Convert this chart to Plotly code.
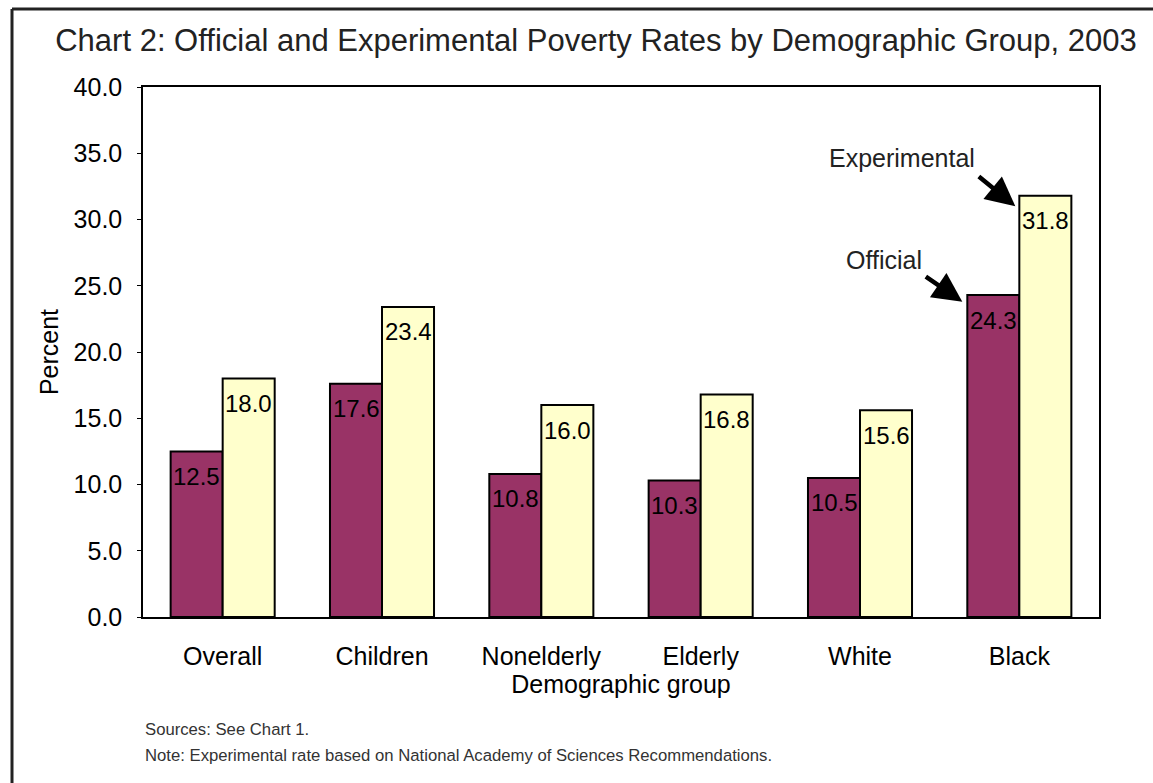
import plotly.graph_objects as go

categories = ["Overall", "Children", "Nonelderly", "Elderly", "White", "Black"]
official = [12.5, 17.6, 10.8, 10.3, 10.5, 24.3]
experimental = [18.0, 23.4, 16.0, 16.8, 15.6, 31.8]
y_ticks = [0, 5, 10, 15, 20, 25, 30, 35, 40]

FONT = "Liberation Sans, Arial, sans-serif"
BAR_HALF_PX = 26  # half width of one bar in pixels (for label centring)

fig = go.Figure()
fig.add_trace(go.Bar(
    name="Official", x=categories, y=official,
    marker=dict(color="#993366", line=dict(color="#000000", width=2)),
    textposition="none",
))
fig.add_trace(go.Bar(
    name="Experimental", x=categories, y=experimental,
    marker=dict(color="#FFFFCC", line=dict(color="#000000", width=2)),
    textposition="none",
))

# value labels inside the top of each bar
for series, shift in ((official, -BAR_HALF_PX), (experimental, BAR_HALF_PX)):
    for cat, v in zip(categories, series):
        fig.add_annotation(x=cat, y=v, xref="x", yref="y", xshift=shift, yshift=-25,
                           xanchor="center", yanchor="middle", showarrow=False,
                           text=f"{v:.1f}",
                           font=dict(family=FONT, size=24, color="#000000"))

fig.update_layout(
    width=1153, height=783,
    margin=dict(l=143, r=54, t=87, b=166),
    barmode="group", bargap=0.347, bargroupgap=0,
    plot_bgcolor="white", paper_bgcolor="white",
    showlegend=False,
    font=dict(family=FONT, size=25, color="#000000"),
    title=dict(
        text="Chart 2: Official and Experimental Poverty Rates by Demographic Group, 2003",
        x=596 / 1153, xanchor="center", xref="container",
        y=1 - 40 / 783, yanchor="middle", yref="container",
        font=dict(family=FONT, size=31, color="#222222"),
    ),
    xaxis=dict(
        showline=True, linecolor="#000000", linewidth=1.5, mirror=True,
        ticks="", ticklabelstandoff=16,
        title=dict(text="Demographic group", standoff=5,
                   font=dict(family=FONT, size=25, color="#000000")),
        tickfont=dict(family=FONT, size=25, color="#000000"),
    ),
    yaxis=dict(
        range=[0, 40], tickvals=y_ticks, tickformat=".1f",
        showline=True, linecolor="#000000", linewidth=1.5, mirror=True,
        ticks="outside", ticklen=4, tickcolor="#000000",
        showgrid=False, zeroline=False, ticklabelstandoff=10,
        title=dict(text="Percent", standoff=8,
                   font=dict(family=FONT, size=25, color="#000000")),
        tickfont=dict(family=FONT, size=25, color="#000000"),
    ),
)

# annotation labels with arrows
fig.add_annotation(x=5, xshift=-4, y=31.0, xref="x", yref="y", text="",
                   showarrow=True, arrowhead=2, arrowsize=1.3, arrowwidth=4.5,
                   arrowcolor="#000000", ax=-38, ay=-31)
fig.add_annotation(x=5, xshift=-57, y=23.8, xref="x", yref="y", text="",
                   showarrow=True, arrowhead=2, arrowsize=1.3, arrowwidth=4.5,
                   arrowcolor="#000000", ax=-38, ay=-26)
fig.add_annotation(x=(902 - 143) / 956, y=(617 - 158) / 530, xref="paper", yref="paper",
                   xanchor="center", yanchor="middle",
                   text="Experimental", showarrow=False,
                   font=dict(family=FONT, size=25, color="#222222"))
fig.add_annotation(x=(884 - 143) / 956, y=(617 - 260) / 530, xref="paper", yref="paper",
                   xanchor="center", yanchor="middle",
                   text="Official", showarrow=False,
                   font=dict(family=FONT, size=25, color="#222222"))

# notes
fig.add_annotation(x=0, y=(617 - 729) / 530, xref="paper", yref="paper",
                   xanchor="left", yanchor="middle", showarrow=False,
                   text="Sources: See Chart 1.",
                   font=dict(family=FONT, size=16.7, color="#333333"))
fig.add_annotation(x=0, y=(617 - 755) / 530, xref="paper", yref="paper",
                   xanchor="left", yanchor="middle", showarrow=False,
                   text="Note: Experimental rate based on National Academy of Sciences Recommendations.",
                   font=dict(family=FONT, size=16.7, color="#333333"))

# outer frame (left and top edges)
fx = (12 - 143) / 956
fy = (617 - 9) / 530
fig.add_shape(type="line", xref="paper", yref="paper", x0=fx, x1=fx, y0=fy, y1=-0.5,
              line=dict(color="#222222", width=3))
fig.add_shape(type="line", xref="paper", yref="paper", x0=fx, x1=1.2, y0=fy, y1=fy,
              line=dict(color="#222222", width=3))

fig.write_html("out.html")
